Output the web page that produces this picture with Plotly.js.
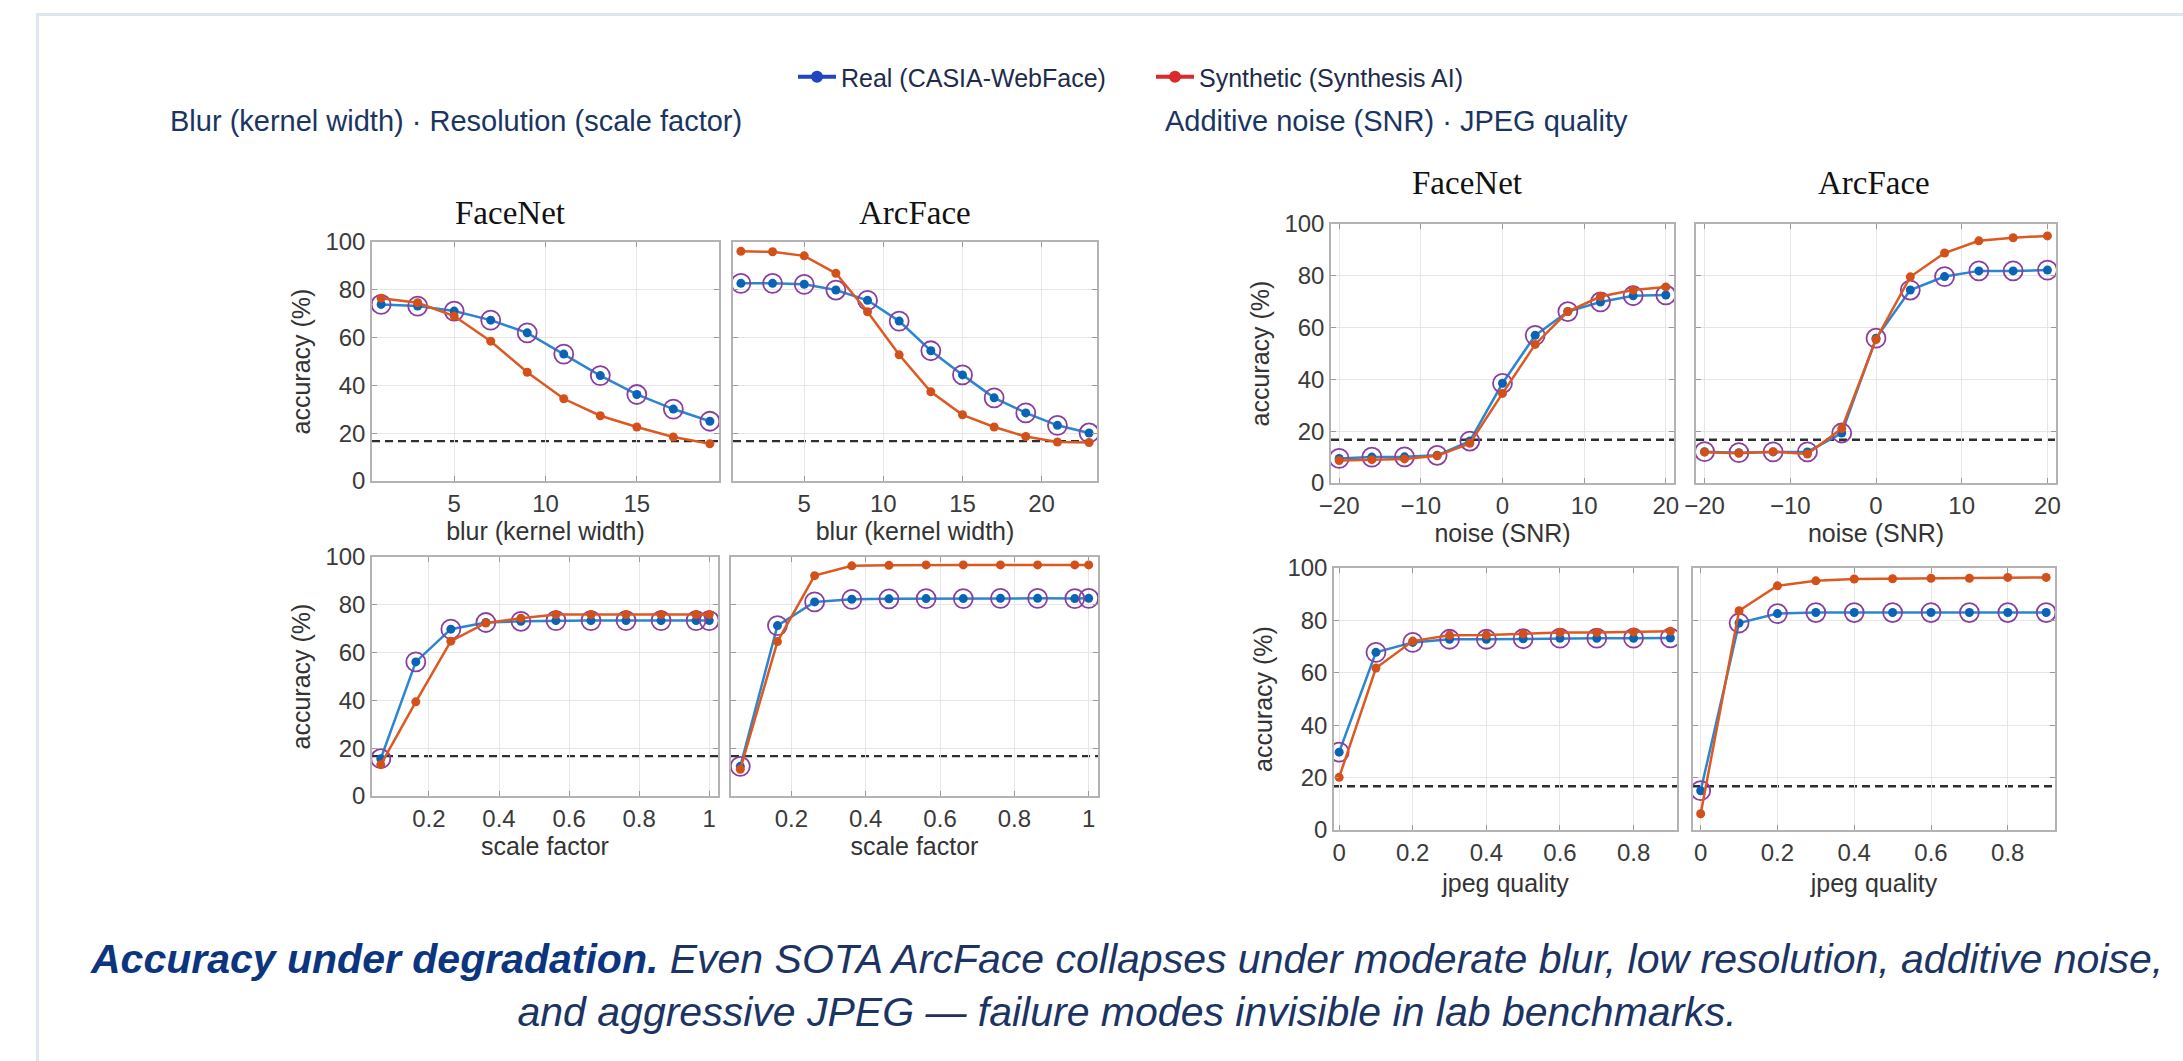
<!DOCTYPE html>
<html><head><meta charset="utf-8">
<script src="https://cdn.plot.ly/plotly-3.0.1.min.js"></script>
<style>
html,body{margin:0;padding:0;width:2183px;height:1061px;overflow:hidden;background:#fff;}
#card{position:absolute;left:36px;top:13px;width:2400px;height:1300px;border:3px solid #dde5ef;box-sizing:border-box;}
#chart{position:absolute;left:0;top:0;width:2183px;height:1061px;}
</style></head><body>
<div id="card"></div><div id="chart"></div>
<script>
// ---------------- data ----------------
const seriesNames = ['Real (CASIA-WebFace)', 'Synthetic (Synthesis AI)'];
const modelNames = ['FaceNet', 'ArcFace'];
const groupTitles = ['Blur (kernel width) · Resolution (scale factor)', 'Additive noise (SNR) · JPEG quality'];
const axisTitles = ['blur (kernel width)', 'scale factor', 'noise (SNR)', 'jpeg quality', 'accuracy (%)'];
const captionBold = 'Accuracy under degradation.';
const captionRest = ' Even SOTA ArcFace collapses under moderate blur, low resolution, additive noise,';
const captionLine2 = 'and aggressive JPEG — failure modes invisible in lab benchmarks.';
const chanceLevel = 16.7;

const blurFaceNetX = [1, 3, 5, 7, 9, 11, 13, 15, 17, 19];
const blurFaceNetReal = [73.9, 73.2, 71.1, 67.3, 62.0, 53.1, 44.1, 36.2, 30.1, 25.0];
const blurFaceNetSyn = [76.5, 74.6, 69.0, 58.5, 45.5, 34.4, 27.3, 22.6, 18.4, 15.6];

const blurArcFaceX = [1, 3, 5, 7, 9, 11, 13, 15, 17, 19, 21, 23];
const blurArcFaceReal = [82.7, 82.7, 82.3, 79.9, 75.6, 66.9, 54.5, 44.4, 34.8, 28.5, 23.3, 20.1];
const blurArcFaceSyn = [96.1, 95.9, 94.2, 86.9, 70.8, 52.8, 37.3, 27.7, 22.6, 18.6, 16.3, 16.1];

const scaleX = [0.0625, 0.1625, 0.2625, 0.3625, 0.4625, 0.5625, 0.6625, 0.7625, 0.8625, 0.9625, 1.0];
const scaleFaceNetReal = [15.6, 56.1, 69.8, 72.6, 73.1, 73.4, 73.4, 73.4, 73.4, 73.4, 73.4];
const scaleFaceNetSyn = [13.1, 39.4, 64.8, 72.4, 74.4, 75.9, 75.9, 75.9, 75.9, 75.9, 75.9];
const scaleArcFaceReal = [12.4, 71.3, 81.2, 82.3, 82.5, 82.6, 82.6, 82.7, 82.7, 82.6, 82.7];
const scaleArcFaceSyn = [11.2, 64.6, 92.2, 96.3, 96.5, 96.7, 96.7, 96.7, 96.7, 96.7, 96.7];

const noiseX = [-20, -16, -12, -8, -4, 0, 4, 8, 12, 16, 20];
const noiseFaceNetReal = [9.5, 10.0, 10.1, 10.7, 16.2, 38.5, 57.0, 66.2, 69.9, 72.3, 72.6];
const noiseFaceNetSyn = [8.7, 9.0, 9.3, 10.5, 15.3, 34.6, 53.5, 66.2, 72.0, 74.5, 75.7];
const noiseArcFaceReal = [12.1, 11.7, 12.0, 12.0, 19.3, 55.9, 74.5, 79.7, 81.9, 81.9, 82.2];
const noiseArcFaceSyn = [11.9, 11.5, 12.1, 11.2, 21.0, 55.4, 79.6, 88.8, 93.5, 94.7, 95.4];

const jpegX = [0, 0.1, 0.2, 0.3, 0.4, 0.5, 0.6, 0.7, 0.8, 0.9];
const jpegFaceNetReal = [29.7, 67.8, 71.6, 72.8, 72.8, 73.0, 73.2, 73.2, 73.2, 73.3];
const jpegFaceNetSyn = [20.1, 61.8, 72.1, 74.3, 74.4, 74.9, 75.4, 75.4, 75.6, 75.9];
const jpegArcFaceReal = [15.0, 79.0, 82.6, 83.0, 83.0, 83.0, 83.0, 83.0, 83.0, 83.0];
const jpegArcFaceSyn = [6.2, 83.7, 93.2, 95.1, 95.8, 95.9, 96.1, 96.1, 96.4, 96.4];

// ---------------- panels (layout) ----------------
const W = 2183, H = 1061;
const panels = [
  {x: blurFaceNetX, real: blurFaceNetReal, syn: blurFaceNetSyn, box: [372, 719, 242, 481], range: [0.5, 19.5], dtick: 5, xt: axisTitles[0], yt: true, so: 4},
  {x: blurArcFaceX, real: blurArcFaceReal, syn: blurArcFaceSyn, box: [733, 1097, 242, 481], range: [0.5, 23.5], dtick: 5, xt: axisTitles[0], yt: false, so: 4},
  {x: scaleX, real: scaleFaceNetReal, syn: scaleFaceNetSyn, box: [372, 718, 557, 796], range: [0.0375, 1.025], dtick: 0.2, xt: axisTitles[1], yt: true, so: 4},
  {x: scaleX, real: scaleArcFaceReal, syn: scaleArcFaceSyn, box: [731, 1098, 557, 796], range: [0.0375, 1.025], dtick: 0.2, xt: axisTitles[1], yt: false, so: 4},
  {x: noiseX, real: noiseFaceNetReal, syn: noiseFaceNetSyn, box: [1331, 1674, 224, 483], range: [-21, 21], dtick: 10, xt: axisTitles[2], yt: true, so: 4},
  {x: noiseX, real: noiseArcFaceReal, syn: noiseArcFaceSyn, box: [1696, 2056, 224, 483], range: [-21, 21], dtick: 10, xt: axisTitles[2], yt: false, so: 4},
  {x: jpegX, real: jpegFaceNetReal, syn: jpegFaceNetSyn, box: [1334, 1677, 568, 830], range: [-0.014, 0.918], dtick: 0.2, xt: axisTitles[3], yt: true, so: 10},
  {x: jpegX, real: jpegArcFaceReal, syn: jpegArcFaceSyn, box: [1693, 2055, 568, 830], range: [-0.02, 0.923], dtick: 0.2, xt: axisTitles[3], yt: false, so: 10}
];

const FONT = '"Liberation Sans", Arial, Helvetica, sans-serif';
const tickFont = {family: FONT, size: 24, color: '#3a3a3a'};
const titleFont = {family: FONT, size: 25, color: '#333333'};

const traces = [];
const layout = {
  width: W, height: H, autosize: false,
  margin: {l: 0, r: 0, t: 0, b: 0, pad: 0},
  paper_bgcolor: 'rgba(0,0,0,0)', plot_bgcolor: '#ffffff',
  showlegend: true,
  legend: {orientation: 'h', x: 793 / W, xanchor: 'left', y: 1 - 77 / H, yanchor: 'middle',
           entrywidth: 305, entrywidthmode: 'pixels', itemwidth: 38,
           bgcolor: 'rgba(0,0,0,0)', font: {family: FONT, size: 25, color: '#1e2b4a'}},
  shapes: [], annotations: []
};

panels.forEach((p, i) => {
  const n = i === 0 ? '' : String(i + 1);
  const xa = 'x' + n, ya = 'y' + n;
  const [l, r, t, b] = p.box;
  layout['xaxis' + n] = {
    domain: [l / W, r / W], anchor: ya, range: p.range, dtick: p.dtick, tick0: 0,
    showgrid: true, gridcolor: '#e6e6e6', gridwidth: 1, zeroline: false,
    showline: true, mirror: 'ticks', linecolor: '#b3b3b3', linewidth: 1.5,
    ticks: 'inside', ticklen: 5, tickcolor: '#9a9a9a', tickfont: tickFont,
    title: {text: p.xt, font: titleFont, standoff: p.so}, fixedrange: true
  };
  layout['yaxis' + n] = {
    domain: [1 - b / H, 1 - t / H], anchor: xa, range: [0, 100], dtick: 20, tick0: 0,
    showgrid: true, gridcolor: '#e6e6e6', gridwidth: 1, zeroline: false,
    showline: true, mirror: 'ticks', linecolor: '#b3b3b3', linewidth: 1.5,
    ticks: 'inside', ticklen: 5, tickcolor: '#9a9a9a', tickfont: tickFont,
    showticklabels: p.yt,
    title: p.yt ? {text: axisTitles[4], font: titleFont, standoff: 8} : {text: ''}, fixedrange: true
  };
  layout.shapes.push({type: 'line', xref: xa + ' domain', yref: ya, x0: 0, x1: 1, y0: chanceLevel, y1: chanceLevel,
    layer: 'below', line: {color: '#2e2e2e', width: 2.4, dash: '8px,5px'}});
  traces.push({x: p.x, y: p.real, xaxis: xa, yaxis: ya, mode: 'lines+markers', name: seriesNames[0], showlegend: false,
    line: {color: '#2b86d0', width: 2.5}, marker: {size: 9, color: '#0c62b5'}});
  traces.push({x: p.x, y: p.real, xaxis: xa, yaxis: ya, mode: 'markers', name: seriesNames[0], showlegend: false,
    marker: {symbol: 'circle-open', size: 19, color: '#8a3fa0', line: {width: 1.8, color: '#8a3fa0'}}});
  traces.push({x: p.x, y: p.syn, xaxis: xa, yaxis: ya, mode: 'lines+markers', name: seriesNames[1], showlegend: false,
    line: {color: '#dc5a22', width: 2.5}, marker: {size: 9, color: '#d4501a'}});
});

// legend entries (no visible marks in plot area)
traces.push({x: [null], y: [null], xaxis: 'x', yaxis: 'y', mode: 'lines+markers', name: seriesNames[0],
  line: {color: '#2146c3', width: 4}, marker: {size: 12, color: '#2146c3'}});
traces.push({x: [null], y: [null], xaxis: 'x', yaxis: 'y', mode: 'lines+markers', name: seriesNames[1],
  line: {color: '#d92b2b', width: 4}, marker: {size: 12, color: '#d92b2b'}});

// model titles
const serif = {family: '"Liberation Serif", "Times New Roman", serif', size: 33, color: '#111111'};
[[510, 213, 0], [915, 213, 1], [1467, 183, 0], [1874, 183, 1]].forEach(([px, py, k]) => {
  layout.annotations.push({xref: 'paper', yref: 'paper', x: px / W, y: 1 - py / H, xanchor: 'center', yanchor: 'middle',
    showarrow: false, text: modelNames[k], font: serif});
});
// group subtitles
[[168, 0], [1163, 1]].forEach(([px, k]) => {
  layout.annotations.push({xref: 'paper', yref: 'paper', x: px / W, y: 1 - 121 / H, xanchor: 'left', yanchor: 'middle',
    showarrow: false, text: groupTitles[k], font: {family: FONT, size: 29, color: '#1b3561'}});
});
// caption
layout.annotations.push({xref: 'paper', yref: 'paper', x: 1126 / W, y: 1 - 985 / H, xanchor: 'center', yanchor: 'middle',
  showarrow: false, align: 'center',
  text: '<b><span style="color:#0c3580">' + captionBold + '</span></b>' + captionRest + '<br>' + captionLine2,
  font: {family: FONT, size: 41, color: '#1c3463', style: 'italic'}});

Plotly.newPlot('chart', traces, layout, {displayModeBar: false});
</script>
</body></html>
